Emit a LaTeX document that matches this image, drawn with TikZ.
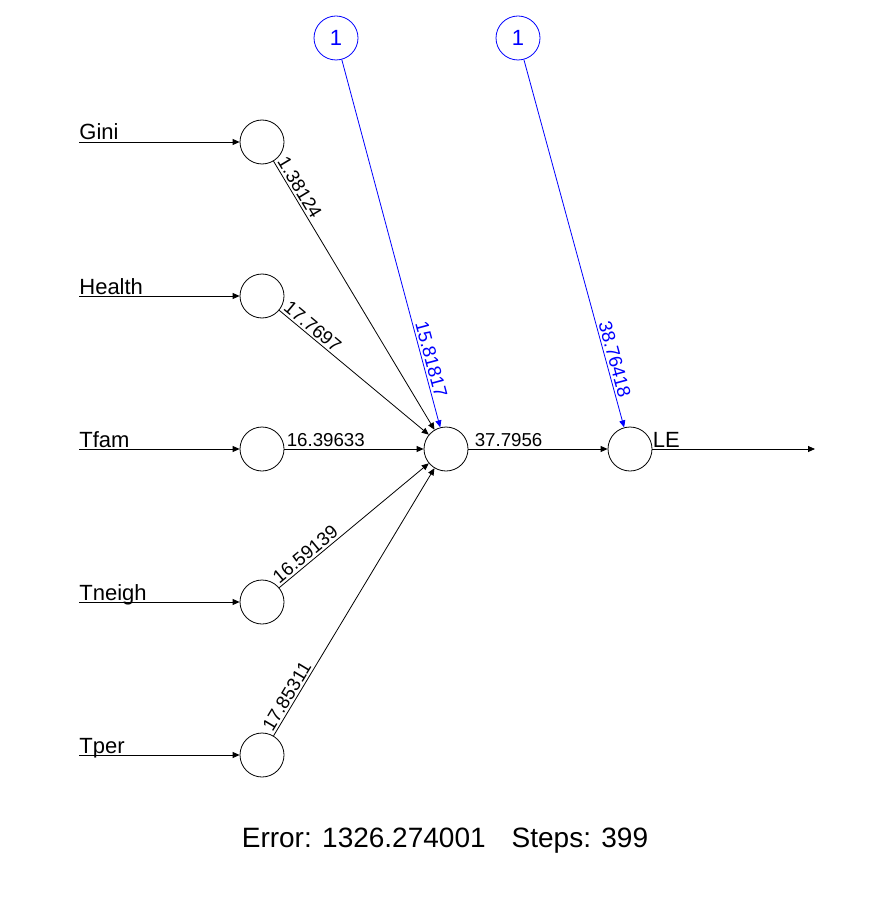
\documentclass[tikz,border=0pt]{standalone}
\usepackage{fontspec}
\setmainfont{Liberation Sans}
\usetikzlibrary{arrows.meta}
\begin{document}
\begin{tikzpicture}[x=1pt,y=-1pt,line width=0.8pt,
    >={Triangle[length=7pt,width=6pt]},
    neuron/.style={draw,circle,minimum size=44pt,inner sep=0pt},
    biasnode/.style={neuron,blue,text=blue,font=\fontsize{22}{26}\selectfont},
    weight/.style={sloped,font=\fontsize{18.7}{20}\selectfont,inner sep=2pt},
    varname/.style={font=\fontsize{22}{26}\selectfont,anchor=base west,inner sep=0pt,yshift=2pt}]
      \useasboundingbox (0,0) rectangle (888,901);
      \draw
        (262,142) node[neuron] (i1){}
        (262,296) node[neuron] (i2){}
        (262,449) node[neuron] (i3){}
        (262,602) node[neuron] (i4){}
        (262,755) node[neuron] (i5){}
        (446,449) node[neuron] (h1){}
        (630,449) node[neuron] (o1){}
        (336,38) node[biasnode] (b1){1}
        (518,38) node[biasnode] (b2){1};
      \coordinate (s1) at (79,142);
      \coordinate (s2) at (79,296);
      \coordinate (s3) at (79,449);
      \coordinate (s4) at (79,602);
      \coordinate (s5) at (79,755);
      \coordinate (e1) at (815,449);
      \begin{scope}[->]
        \draw (s1) to node[varname,pos=0]{Gini} (i1);
        \draw (s2) to node[varname,pos=0]{Health} (i2);
        \draw (s3) to node[varname,pos=0]{Tfam} (i3);
        \draw (s4) to node[varname,pos=0]{Tneigh} (i4);
        \draw (s5) to node[varname,pos=0]{Tper} (i5);
        \draw (i1) to node[weight,pos=0,anchor=south west]{1.38124} (h1);
        \draw (i2) to node[weight,pos=0,anchor=south west]{17.7697} (h1);
        \draw (i3) to node[weight,pos=0,anchor=south west]{16.39633} (h1);
        \draw (i4) to node[weight,pos=0,anchor=south west]{16.59139} (h1);
        \draw (i5) to node[weight,pos=0,anchor=south west]{17.85311} (h1);
        \draw (h1) to node[weight,pos=0,anchor=south west,xshift=4pt]{37.7956} (o1);
        \draw (o1) to node[varname,pos=0]{LE} (e1);
        \draw[blue] (b1) to node[weight,pos=0.93,anchor=south east]{15.81817} (h1);
        \draw[blue] (b2) to node[weight,pos=0.93,anchor=south east]{38.76418} (o1);
      \end{scope}
      \node[anchor=base,font=\fontsize{28}{31}\selectfont] (err) at (445,847)
        {Error: 1326.274001\hspace{26pt}Steps: 399};
    \end{tikzpicture}
\end{document}
